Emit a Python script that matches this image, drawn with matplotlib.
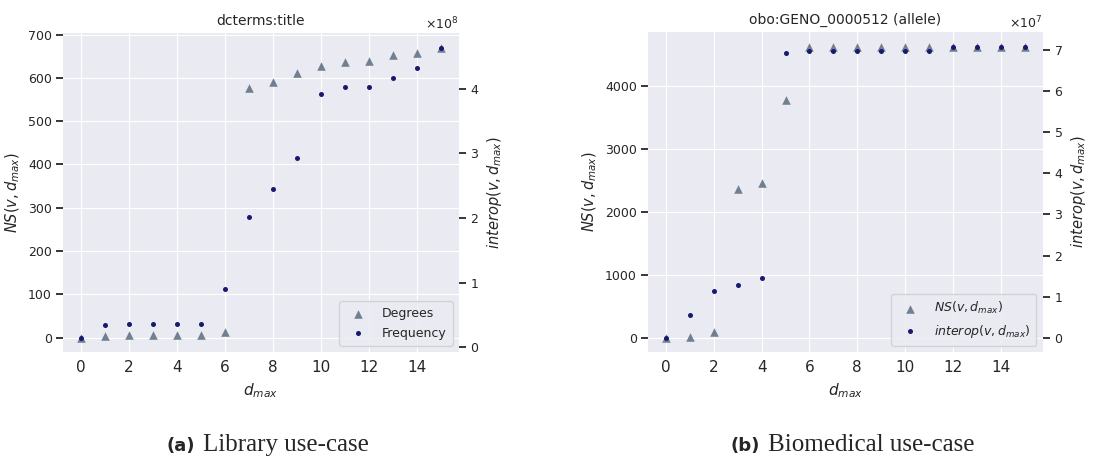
"""
NS and interop vs d_max for two use-cases
"""
import numpy as np
import matplotlib.pyplot as plt
import seaborn as sns

sns.set_style("darkgrid")

# d_max values
dmax = list(range(16))

# (a) Library use-case: dcterms:title
lib_degrees = [0, 3, 5, 5, 5, 7, 13, 576, 590, 612, 628, 636, 639, 652, 658, 670]
lib_freq = [0.15e8, 0.347e8, 0.352e8, 0.352e8, 0.352e8, 0.362e8, 0.903e8, 2.01e8,
            2.449e8, 2.934e8, 3.918e8, 4.026e8, 4.031e8, 4.163e8, 4.321e8, 4.638e8]

# (b) Biomedical use-case: obo:GENO_0000512 (allele)
bio_ns = [0, 15, 94, 2362, 2451, 3769, 4612, 4612, 4612, 4612, 4612, 4612,
          4618, 4618, 4618, 4618]
bio_interop = [0.01e7, 0.555e7, 1.133e7, 1.294e7, 1.447e7, 6.92e7, 6.96e7, 6.96e7,
               6.96e7, 6.96e7, 6.96e7, 6.96e7, 7.07e7, 7.07e7, 7.07e7, 7.07e7]

titles = ["dcterms:title", "obo:GENO_0000512 (allele)"]
captions = ["Library use-case", "Biomedical use-case"]
tri_color = "slategray"
dot_color = "midnightblue"
txt = "#262626"

fig = plt.figure(figsize=(11.12, 4.59), dpi=100)
boxes = [[0.0567, 0.233, 0.356, 0.695], [0.5827, 0.233, 0.355, 0.697]]
series = [(lib_degrees, lib_freq, "Degrees", "Frequency"),
          (bio_ns, bio_interop, r"$NS(v, d_{max})$", r"$interop(v, d_{max})$")]
# left edge of each caption (figure fraction)
cap_x = [0.150, 0.657]

for i, box in enumerate(boxes):
    left_vals, right_vals, lab1, lab2 = series[i]
    ax = fig.add_axes(box)
    ax2 = ax.twinx()
    ax2.grid(False)

    h1 = ax.scatter(dmax, left_vals, marker="^", s=38, color=tri_color,
                    linewidths=0, label=lab1, zorder=3)
    h2 = ax2.scatter(dmax, right_vals, marker="o", s=13, color=dot_color,
                     linewidths=0, label=lab2, zorder=3)

    ax.set_title(titles[i], fontsize=10, color=txt, pad=6)
    ax.set_xlabel(r"$d_{max}$", fontsize=11, color=txt)
    ax.set_ylabel(r"$NS(v, d_{max})$", fontsize=10.5, color=txt)
    ax2.set_ylabel(r"$interop(v, d_{max})$", fontsize=10.5, color=txt)
    ax.set_xticks(np.arange(0, 16, 2))
    ax.tick_params(axis="x", labelsize=11, length=0, pad=6)
    ax.tick_params(axis="y", left=True, right=False, labelsize=9, pad=3,
                   length=5, width=1.3, color=txt)
    ax2.tick_params(axis="y", left=False, right=True, labelsize=9, pad=3,
                    length=5, width=1.3, color=txt)
    ax2.ticklabel_format(axis="y", style="sci", scilimits=(0, 0), useMathText=True)
    ax2.yaxis.get_offset_text().set_fontsize(9)
    for a in (ax, ax2):
        for s in a.spines.values():
            s.set_visible(False)

    leg = ax2.legend([h1, h2], [lab1, lab2], loc="lower right", fontsize=9,
                     frameon=True, borderpad=0.5, handletextpad=0.9,
                     labelspacing=0.5)
    leg.get_frame().set_facecolor("#eaeaf2")
    leg.get_frame().set_edgecolor("#cccccc")

    # caption: bold sans tag + serif text
    tag = fig.text(cap_x[i], 0.018, "(" + "ab"[i] + ")", ha="left",
                   va="baseline", fontsize=13, fontweight="bold",
                   family="DejaVu Sans")
    fig.canvas.draw()
    bb = tag.get_window_extent().transformed(fig.transFigure.inverted())
    fig.text(bb.x1 + 0.007, 0.018, captions[i], ha="left", va="baseline",
             fontsize=18, family="Liberation Serif")

fig.savefig("out.png", dpi=100)
